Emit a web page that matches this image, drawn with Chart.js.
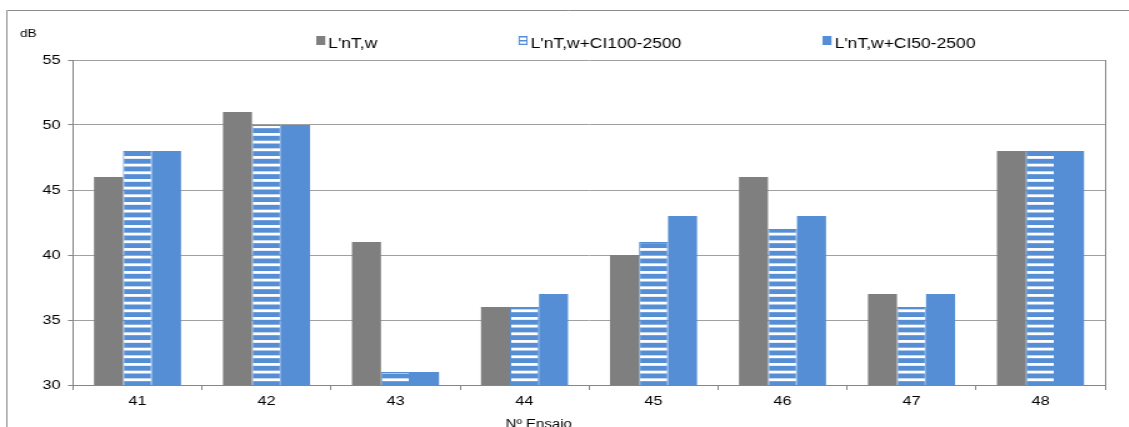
<!DOCTYPE html>
<html>
<head>
<meta charset="utf-8">
<script src="https://cdn.jsdelivr.net/npm/chart.js@4.4.1/dist/chart.umd.min.js"></script>
<style>
  html, body { margin: 0; padding: 0; background: #fff; overflow: hidden; }
  /* the source picture is stretched sideways, so draw narrow and stretch */
  #wrap { width: 903px; height: 427px; transform: scaleX(1.25); transform-origin: 0 0; }
</style>
</head>
<body>
<div id="wrap"><canvas id="chart" width="903" height="427"></canvas></div>
<script>
const ensaios = ['41', '42', '43', '44', '45', '46', '47', '48'];
const lntw = [46, 51, 41, 36, 40, 46, 37, 48];
const lntwCi100 = [48, 50, 31, 36, 41, 42, 36, 48];
const lntwCi50 = [48, 50, 31, 37, 43, 43, 37, 48];
const seriesNames = ["L'nT,w", "L'nT,w+CI100-2500", "L'nT,w+CI50-2500"];
const yTicks = [30, 35, 40, 45, 50, 55];

const GRAY = '#7f7f7f';
const BLUE = '#558ed5';
const FONT = '"Liberation Sans", Arial, sans-serif';

// blue with white horizontal stripes, period ~7.67px
function stripePattern(ctx) {
  const c = document.createElement('canvas');
  c.width = 8; c.height = 23;
  const p = c.getContext('2d');
  p.fillStyle = BLUE;
  p.fillRect(0, 0, 8, 23);
  p.fillStyle = '#ffffff';
  for (let k = 0; k < 3; k++) {
    p.fillRect(0, 2.7 + k * 23 / 3, 8, 2.8);
  }
  return ctx.createPattern(c, 'repeat');
}

function drawSwatch(ctx, i, x, y, w, h) {
  if (i === 1) {
    ctx.fillStyle = BLUE;
    ctx.fillRect(x, y, w, h);
    ctx.fillStyle = '#fff';
    ctx.fillRect(x + 1, y + 1.5, w - 2, 2.5);
    ctx.fillRect(x + 1, y + 5.5, w - 2, 2.2);
  } else {
    ctx.fillStyle = i === 0 ? GRAY : BLUE;
    ctx.fillRect(x, y, w, h);
  }
}

const extras = {
  id: 'extras',
  afterDraw(chart) {
    const ctx = chart.ctx;
    const area = chart.chartArea;
    ctx.save();

    // outer frame (cut off at right and bottom)
    ctx.strokeStyle = '#8c8c8c';
    ctx.lineWidth = 1;
    ctx.beginPath();
    ctx.moveTo(5.5, 427);
    ctx.lineTo(5.5, 10.5);
    ctx.lineTo(903, 10.5);
    ctx.stroke();

    // right edge of the plot area
    ctx.strokeStyle = '#868686';
    ctx.beginPath();
    ctx.moveTo(Math.round(area.right) + 0.5, area.top);
    ctx.lineTo(Math.round(area.right) + 0.5, area.bottom);
    ctx.stroke();

    // legend
    ctx.font = '14px ' + FONT;
    ctx.textBaseline = 'alphabetic';
    let x = 253;
    chart.data.datasets.forEach((ds, i) => {
      drawSwatch(ctx, i, x, 36, 7.2, 9);
      ctx.fillStyle = '#000';
      ctx.fillText(ds.label, x + 9.6, 47.5);
      x += 9.6 + ctx.measureText(ds.label).width + 113;
    });

    // unit and axis title
    ctx.fillStyle = '#000';
    ctx.font = '11px ' + FONT;
    ctx.textAlign = 'left';
    ctx.fillText('dB', 16, 37);
    ctx.font = '12px ' + FONT;
    ctx.textAlign = 'center';
    ctx.fillText('Nº Ensaio', 431, 427.5);
    ctx.restore();
  }
};

const ctx = document.getElementById('chart').getContext('2d');
new Chart(ctx, {
  type: 'bar',
  data: {
    labels: ensaios,
    datasets: [
      { label: seriesNames[0], data: lntw, backgroundColor: GRAY },
      { label: seriesNames[1], data: lntwCi100, backgroundColor: stripePattern(ctx),
        borderColor: BLUE, borderWidth: 1, borderSkipped: false },
      { label: seriesNames[2], data: lntwCi50, backgroundColor: BLUE }
    ]
  },
  options: {
    responsive: false,
    animation: false,
    devicePixelRatio: 1,
    layout: { padding: { left: 0, right: 19, top: 60, bottom: 0 } },
    datasets: { bar: { categoryPercentage: 0.675, barPercentage: 1 } },
    plugins: {
      legend: { display: false },
      tooltip: { enabled: false }
    },
    scales: {
      x: {
        afterFit: scale => { scale.height = 42; },
        grid: { offset: true, drawOnChartArea: false, tickLength: 5, color: '#868686' },
        border: { color: '#868686' },
        ticks: { color: '#000', padding: 4, font: { family: FONT, size: 13 } }
      },
      y: {
        min: 30,
        max: 55,
        afterFit: scale => { scale.width = 58.4; },
        afterBuildTicks: scale => { scale.ticks = yTicks.map(v => ({ value: v })); },
        grid: { color: '#a0a0a0', tickColor: '#868686', tickLength: 4 },
        border: { color: '#868686' },
        ticks: { color: '#000', padding: 6, font: { family: FONT, size: 13 } }
      }
    }
  },
  plugins: [extras]
});
</script>
</body>
</html>
